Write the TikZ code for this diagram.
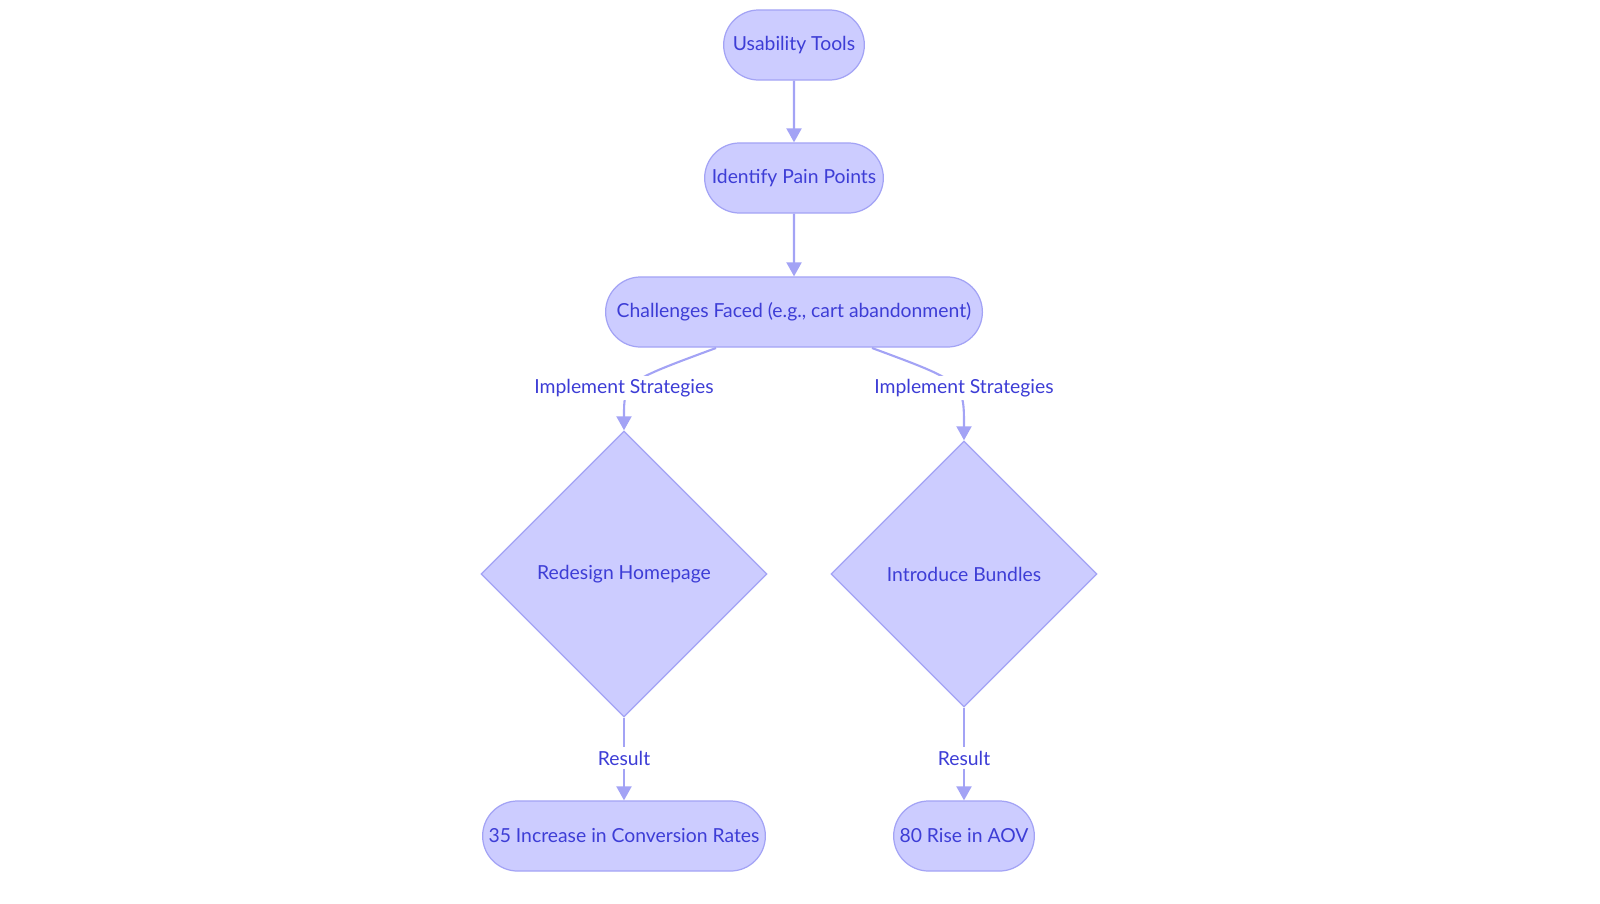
\documentclass[tikz,border=0pt]{standalone}
\usepackage{fontspec}
\setmainfont{Lato}
\usetikzlibrary{shapes.geometric,shapes.misc,arrows.meta}
\definecolor{boxfill}{HTML}{CCCCFF}
\definecolor{boxline}{HTML}{A3A3F5}
\definecolor{boxtext}{HTML}{3D3DD6}
\begin{document}
\begin{tikzpicture}[x=0.01cm,y=-0.01cm,
                    pill/.style={rounded rectangle,fill=boxfill,draw=boxline,line width=0.35pt,
                                 text=boxtext,font=\fontsize{5.5pt}{6.5pt}\selectfont,minimum height=0.70cm},
                    choice/.style={diamond,fill=boxfill,draw=boxline,line width=0.35pt,
                                 text=boxtext,font=\fontsize{5.5pt}{6.5pt}\selectfont,inner sep=0pt},
                    edge/.style={draw=boxline,line width=0.6pt,-{Triangle[length=0.14cm,width=0.15cm]}},
                    tag/.style={fill=white,text=boxtext,font=\fontsize{5.5pt}{6.5pt}\selectfont,inner sep=1pt}]
\useasboundingbox (0,0) rectangle (1600,903);

\node[pill,minimum width=1.64cm] (tools) at (794,45) {Usability Tools};
\node[pill,minimum width=2.02cm] (pain) at (794,178) {Identify Pain Points};
\node[pill,minimum width=4.00cm] (faced) at (794,312) {Challenges Faced (e.g., cart abandonment)};

\node[choice,minimum width=2.86cm,minimum height=2.86cm] (home) at (624,574) {Redesign Homepage};
\node[choice,minimum width=2.66cm,minimum height=2.66cm] (bundle) at (964,574) {Introduce Bundles};

\node[pill,minimum width=3.06cm] (conv) at (624,836) {35 Increase in Conversion Rates};
\node[pill,minimum width=1.64cm] (aov) at (964,836) {80 Rise in AOV};

\coordinate (leftout) at (716,348);
\coordinate (rightout) at (872,348);

\draw[edge] (tools) -- (pain);
\draw[edge] (pain) -- (faced);
\draw[edge] (leftout) .. controls (624,382) .. (home.north);
\draw[edge] (rightout) .. controls (964,382) .. (bundle.north);
\draw[edge] (home.south) -- (conv.north);
\draw[edge] (bundle.south) -- (aov.north);

\node[tag] (strat1) at (624,388) {Implement Strategies};
\node[tag] (strat2) at (964,388) {Implement Strategies};
\node[tag] (res1) at (624,758) {Result};
\node[tag] (res2) at (964,758) {Result};
\end{tikzpicture}
\end{document}
